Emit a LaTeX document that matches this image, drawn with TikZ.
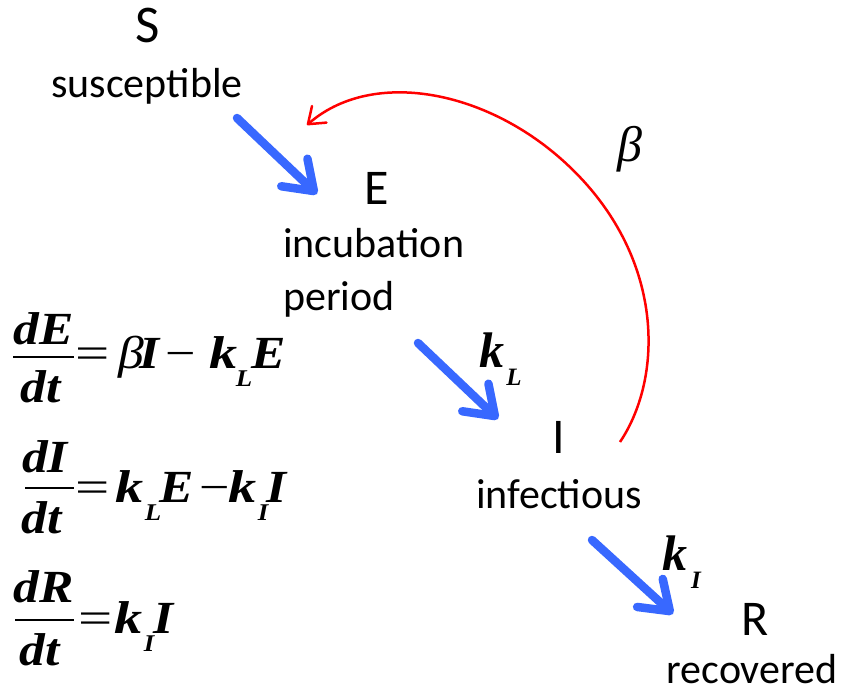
\documentclass[tikz,border=0pt]{standalone}
\usepackage{fontspec}
\usepackage{graphicx}
\setmainfont{Carlito}
\newfontfamily\tnr{Liberation Serif}
\usetikzlibrary{arrows.meta}
\definecolor{flowblue}{RGB}{56,104,255}
\newcommand\tbi{\tnr\bfseries\itshape}
\newcommand\eqwide[1]{\scalebox{1.12}[1]{#1}}
\newcommand\eqk{\scalebox{1.22}[1]{k}}
\begin{document}
\begin{tikzpicture}[x=1pt,y=-1pt,
  lab/.style={inner sep=0pt, anchor=base},
  big/.style={lab, font=\fontsize{50}{60}\selectfont},
  desc/.style={lab, font=\fontsize{42}{53}\selectfont},
  eq/.style={lab, font=\fontsize{46}{54}\selectfont\tbi},
  eqgreek/.style={lab, font=\fontsize{46}{54}\selectfont\tnr\itshape},
  eqsub/.style={lab, font=\fontsize{24}{28}\selectfont\tbi},
  eqop/.style={lab, font=\fontsize{45}{54}\selectfont\tnr},
  rate/.style={lab, font=\fontsize{50}{60}\selectfont\tbi},
  ratesub/.style={lab, font=\fontsize{25}{30}\selectfont\tbi},
  flow/.style={draw=flowblue, line width=8.5pt, line cap=round, -{Straight Barb[length=27pt,width=38pt,round]}},
  infect/.style={draw=red, line width=2.5pt, -{Straight Barb[length=15pt,width=22pt,round]}},
  fracbar/.style={line width=2.2pt}
]
\useasboundingbox (0,0) rectangle (841,694);

% compartments
\node[big, font=\fontsize{53}{60}\selectfont] (S) at (148,42) {S};
\node[desc] (Sl) at (147,97) {susceptible};
\node[big] (E) at (377,204) {E};
\node[desc, anchor=base west, align=left] (El) at (283,310) {incubation\\period};
\node[big] (I) at (559,453) {I};
\node[desc] (Il) at (559,508) {infectious};
\node[big] (R) at (755,635) {R};
\node[desc] (Rl) at (752,683) {recovered};

% rate labels
\node[rate] (kL) at (492,367) {k};
\node[ratesub] (kLs) at (514,385) {L};
\node[rate] (kI) at (675,570) {k};
\node[ratesub] (kIs) at (696,588) {I};
\node[lab, font=\fontsize{50}{60}\selectfont\tnr\itshape] (beta) at (630,161) {β};

% flow arrows
\coordinate (f1s) at (237,118); \coordinate (f1e) at (317,194);
\coordinate (f2s) at (418,343); \coordinate (f2e) at (498,419);
\coordinate (f3s) at (592,540); \coordinate (f3e) at (673,614);
\draw[flow] (f1s) -- (f1e);
\draw[flow] (f2s) -- (f2e);
\draw[flow] (f3s) -- (f3e);

% infection feedback
\coordinate (r1s) at (620,442); \coordinate (r1e) at (307,125);
\draw[infect] (r1s) .. controls (665,375) and (665,250) .. (560,158)
  .. controls (480,88) and (370,70) .. (r1e);

% equation 1
\node[eq] (n1) at (44,344) {\eqwide{dE}};
\draw[fracbar] (13,357) -- (74,357);
\node[eq] (d1) at (41,402) {\eqwide{dt}};
\node[eqop] (eq1) at (93,368) {\scalebox{1.35}[1]{=}};
\node[eqgreek] (b1) at (131,368) {\eqwide{β}};
\node[eq] (I1) at (150,368) {\eqwide{I}};
\node[eqop] (m1) at (181,368) {\scalebox{1.2}[1]{−}};
\node[eq] (k1) at (224,368) {\eqk};
\node[eqsub] (L1) at (244,386) {\eqwide{L}};
\node[eq] (E1) at (269,368) {\eqwide{E}};

% equation 2
\node[eq] (n2) at (45,472) {\eqwide{dI}};
\draw[fracbar] (25,488) -- (74,488);
\node[eq] (d2) at (42,533) {\eqwide{dt}};
\node[eqop] (eq2) at (93,502) {\scalebox{1.35}[1]{=}};
\node[eq] (k2) at (130,502) {\eqk};
\node[eqsub] (L2) at (153,520) {\eqwide{L}};
\node[eq] (E2) at (177,502) {\eqwide{E}};
\node[eqop] (m2) at (215,502) {\scalebox{1.2}[1]{−}};
\node[eq] (k3) at (243,502) {\eqk};
\node[eqsub] (I2s) at (263,520) {\eqwide{I}};
\node[eq] (I2) at (277,502) {\eqwide{I}};

% equation 3
\node[eq] (n3) at (44,602) {\eqwide{dR}};
\draw[fracbar] (15,620) -- (74,620);
\node[eq] (d3) at (40,665) {\eqwide{dt}};
\node[eqop] (eq3) at (96,633) {\scalebox{1.35}[1]{=}};
\node[eq] (k4) at (129,633) {\eqk};
\node[eqsub] (I3s) at (149,651) {\eqwide{I}};
\node[eq] (I3) at (164,633) {\eqwide{I}};
\end{tikzpicture}
\end{document}
